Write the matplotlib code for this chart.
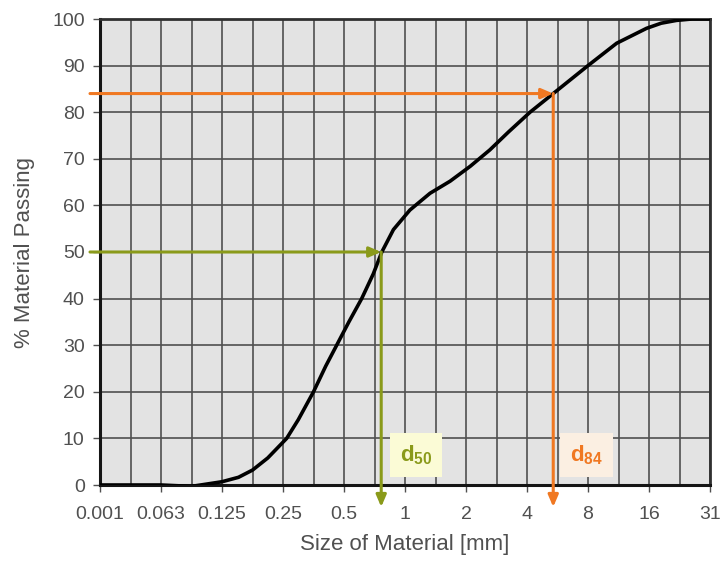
import matplotlib
matplotlib.use("Agg")
import matplotlib.pyplot as plt
import numpy as np

# ---- data ----
tick_labels = ["0.001", "0.063", "0.125", "0.25", "0.5", "1", "2", "4", "8", "16", "31"]
# curve positions expressed in tick-index units (0 = 0.001 ... 10 = 31)
curve_pos = [0, 0.5, 1.0, 1.5, 2.0, 2.27, 2.5, 2.75, 3.06, 3.25, 3.5, 3.7, 3.88, 4.08,
             4.29, 4.48, 4.62, 4.81, 5.08, 5.41, 5.74, 6.07, 6.39, 6.7, 7.05, 7.43,
             8.0, 8.47, 8.96, 9.2, 9.45, 9.7, 10.0]
curve_pct = [0, 0, 0, -0.3, 0.7, 1.65, 3.2, 5.8, 10, 14, 20, 25.5, 30, 35,
             40, 45.3, 50, 54.8, 59, 62.6, 65.2, 68.4, 71.9, 75.8, 80, 84,
             90, 94.8, 98.0, 99.1, 99.7, 100, 100]
d50_pos, d50_pct = 4.61, 50
d84_pos, d84_pct = 7.43, 84

OLIVE = "#8a9a1a"
ORANGE = "#f07822"
GRID = "#505050"
TXT = "#505050"

plt.rcParams['font.family'] = ['Liberation Sans', 'DejaVu Sans']
plt.rcParams['mathtext.fontset'] = 'custom'
plt.rcParams['mathtext.rm'] = 'Liberation Sans:bold'
plt.rcParams['mathtext.bf'] = 'Liberation Sans:bold'

fig = plt.figure(figsize=(7.2, 5.7), dpi=100)
ax = fig.add_axes([100/720, 1-485/570, 610/720, 466/570])
ax.set_facecolor("#e3e3e3")

ax.set_xlim(0, 10)
ax.set_ylim(0, 100)
ax.set_xticks(range(len(tick_labels)))
ax.set_xticklabels(tick_labels)
ax.set_xticks(np.arange(0.5, 10, 1.0), minor=True)
ax.set_yticks(range(0, 101, 10))

ax.grid(True, which="both", color=GRID, lw=1.2, zorder=1)
ax.set_axisbelow(True)
ax.tick_params(axis="both", which="major", labelsize=14, labelcolor=TXT, color=GRID,
               length=5, width=1, direction="out")
ax.tick_params(axis="x", which="minor", length=0)
ax.tick_params(axis="x", pad=10)
ax.tick_params(axis="y", pad=6)

for s in ["left", "bottom"]:
    ax.spines[s].set_color("#151515")
    ax.spines[s].set_linewidth(2.2)
for s in ["top", "right"]:
    ax.spines[s].set_color("#303030")
    ax.spines[s].set_linewidth(2.0)

ax.set_xlabel("Size of Material [mm]", fontsize=16, color=TXT, labelpad=8)
ax.set_ylabel("% Material Passing", fontsize=16, color=TXT, labelpad=12)

ax.plot(curve_pos, curve_pct, color="black", lw=2.6, zorder=3,
        solid_capstyle="round", solid_joinstyle="round")

# arrows
x_left = -10/61
y_bot = -22/4.66
for px, py, col in [(d50_pos, d50_pct, OLIVE), (d84_pos, d84_pct, ORANGE)]:
    ap = dict(arrowstyle="-|>,head_length=0.7,head_width=0.3", color=col, lw=2.2,
              shrinkA=0, shrinkB=0)
    a1 = ax.annotate("", xy=(px, py), xytext=(x_left, py), arrowprops=ap,
                     annotation_clip=False, zorder=4)
    a2 = ax.annotate("", xy=(px, y_bot), xytext=(px, py), arrowprops=ap,
                     annotation_clip=False, zorder=4)
    a1.arrow_patch.set_clip_on(False)
    a2.arrow_patch.set_clip_on(False)

ax.text(5.18, 6.4, r"d$_{50}$", color=OLIVE, fontsize=16, fontweight="bold",
        ha="center", va="center", zorder=5,
        bbox=dict(boxstyle="square,pad=0.45", fc="#fbfbd6", ec="none"))
ax.text(7.97, 6.4, r"d$_{84}$", color=ORANGE, fontsize=16, fontweight="bold",
        ha="center", va="center", zorder=5,
        bbox=dict(boxstyle="square,pad=0.45", fc="#fbefe2", ec="none"))

fig.savefig("out.png", dpi=100, facecolor="white")
